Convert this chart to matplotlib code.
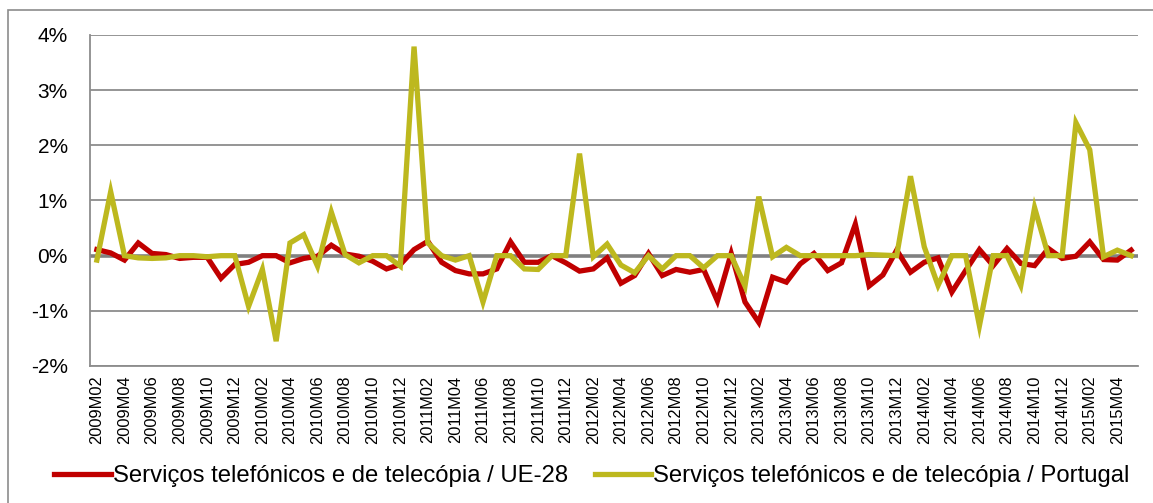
import matplotlib
matplotlib.use("Agg")
import matplotlib.pyplot as plt
from matplotlib.patches import Rectangle

plt.rcParams['font.family'] = ['Liberation Sans', 'DejaVu Sans']

# Categories: 2009M02 .. 2015M05
months = [f"{y}M{m:02d}" for y in range(2009, 2016) for m in range(1, 13)]
months = months[months.index("2009M02"):months.index("2015M05") + 1]

ue28 = [0.11, 0.05, -0.08, 0.23, 0.04, 0.02, -0.05, -0.03, -0.03, -0.41,
        -0.16, -0.12, 0.00, 0.00, -0.13, -0.05, -0.01, 0.19, 0.03, -0.01,
        -0.10, -0.24, -0.16, 0.11, 0.26, -0.12, -0.27, -0.33, -0.33, -0.24,
        0.25, -0.12, -0.12, 0.00, -0.13, -0.28, -0.24, -0.04, -0.50, -0.36,
        0.04, -0.36, -0.25, -0.30, -0.25, -0.82, 0.04, -0.84, -1.21, -0.39,
        -0.48, -0.15, 0.04, -0.27, -0.13, 0.57, -0.55, -0.35, 0.10, -0.30,
        -0.12, -0.04, -0.66, -0.27, 0.11, -0.18, 0.13, -0.14, -0.18, 0.13,
        -0.05, -0.01, 0.25, -0.07, -0.08, 0.10]

portugal = [-0.08, 1.16, 0.00, -0.04, -0.05, -0.04, 0.00, 0.00, -0.02, 0.00,
            0.00, -0.92, -0.25, -1.55, 0.23, 0.38, -0.19, 0.79, 0.02, -0.13,
            0.00, 0.00, -0.19, 3.79, 0.23, 0.00, -0.08, 0.00, -0.84, 0.00,
            0.00, -0.24, -0.25, 0.00, 0.00, 1.85, -0.02, 0.21, -0.17, -0.31,
            0.00, -0.24, 0.00, 0.00, -0.22, 0.00, 0.00, -0.55, 1.07, -0.02,
            0.15, 0.00, 0.00, 0.00, 0.00, 0.00, 0.02, 0.01, 0.00, 1.44,
            0.16, -0.54, 0.00, 0.00, -1.27, 0.00, 0.00, -0.54, 0.87, 0.00,
            0.00, 2.41, 1.92, -0.02, 0.10, 0.00]

y_ticks = [-2, -1, 0, 1, 2, 3, 4]
y_labels = [f"{v}%" for v in y_ticks]
series_names = ["Serviços telefónicos e de telecópia / UE-28",
                "Serviços telefónicos e de telecópia / Portugal"]

W, H = 1153, 503
fig = plt.figure(figsize=(W / 100, H / 100), dpi=100)

# outer chart border
fig.patches.append(Rectangle((8 / W, -0.1), 1.2, 1 - 10.5 / H + 0.1,
                             transform=fig.transFigure, fill=False,
                             edgecolor='#8c8c8c', linewidth=1.2))

left, right, top, bottom = 90, 1138, 35, 366
ax = fig.add_axes([left / W, 1 - bottom / H, (right - left) / W, (bottom - top) / H])

x = list(range(len(months)))
ax.set_xlim(-0.5, len(months) - 0.5)
ax.set_ylim(-2, 4)

for v in y_ticks:
    if v != 0:
        ax.axhline(v, color='#8c8c8c', linewidth=1.3, zorder=1)
ax.axhline(0, color='#808080', linewidth=2.6, zorder=1)

l1, = ax.plot(x, ue28, color='#C00000', linewidth=3.8, zorder=3,
              solid_joinstyle='miter')
l2, = ax.plot(x, portugal, color='#BDB81E', linewidth=3.8, zorder=4,
              solid_joinstyle='miter')

ax.set_yticks(y_ticks)
ax.set_yticklabels(y_labels, fontsize=15)
ax.set_xticks(x[::2])
ax.set_xticklabels(months[::2], rotation=90, fontsize=11.8)
ax.tick_params(axis='both', length=0)
ax.tick_params(axis='y', pad=16)
ax.tick_params(axis='x', pad=7)

for s in ['top', 'right']:
    ax.spines[s].set_visible(False)
for s in ['left', 'bottom']:
    ax.spines[s].set_color('#8c8c8c')
    ax.spines[s].set_linewidth(1.3)

fig.legend([l1, l2], series_names, loc='center', bbox_to_anchor=(592 / W, 1 - 476 / H),
           ncol=2, frameon=False, fontsize=17.2, handlelength=2.38,
           handletextpad=0.08, columnspacing=1.1, borderpad=0, borderaxespad=0)

fig.savefig("out.png", dpi=100)
